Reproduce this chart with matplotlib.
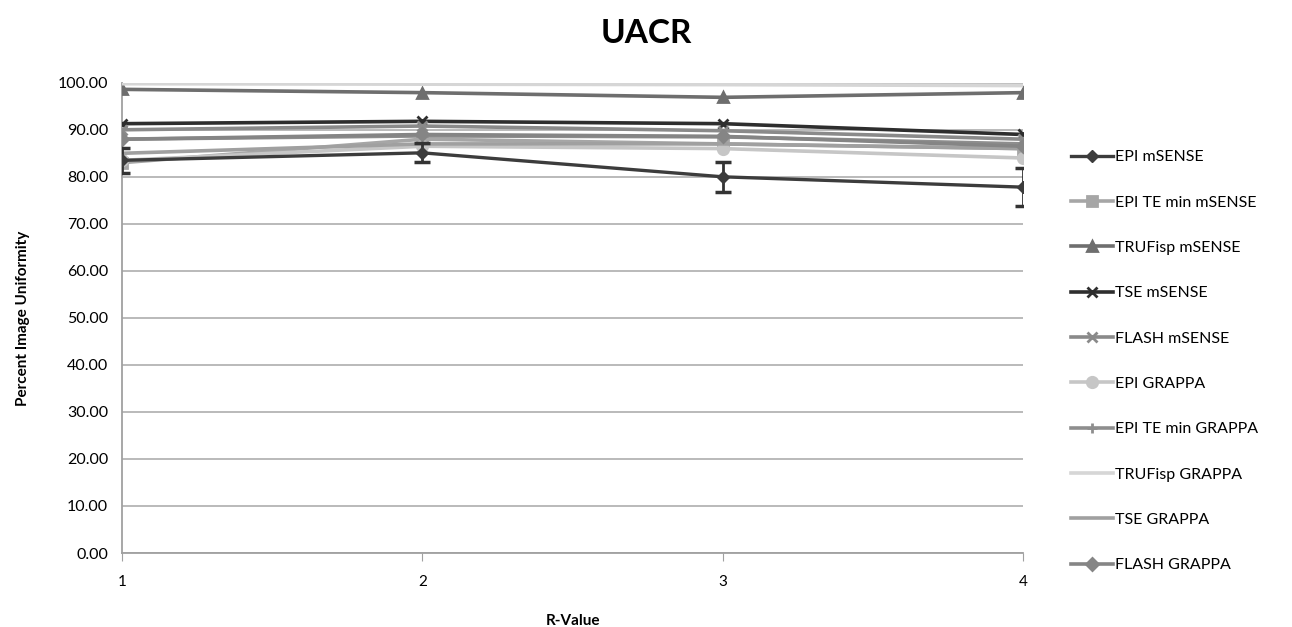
import matplotlib
matplotlib.use("Agg")
import matplotlib.pyplot as plt

r_values = [1, 2, 3, 4]
series_names = ["EPI mSENSE", "EPI TE min mSENSE", "TRUFisp mSENSE", "TSE mSENSE",
                "FLASH mSENSE", "EPI GRAPPA", "EPI TE min GRAPPA", "TRUFisp GRAPPA",
                "TSE GRAPPA", "FLASH GRAPPA"]
epi_msense = [83.5, 85.1, 80.0, 77.8]
epi_msense_err = [2.7, 2.0, 3.2, 4.0]
epi_temin_msense = [83.0, 88.0, 87.0, 86.0]
trufisp_msense = [98.6, 97.9, 96.9, 97.9]
tse_msense = [91.3, 91.8, 91.3, 89.0]
flash_msense = [90.0, 90.8, 89.8, 88.0]
epi_grappa = [83.5, 86.5, 86.0, 84.0]
epi_temin_grappa = [88.0, 88.7, 88.5, 87.0]
trufisp_grappa = [99.8, 99.7, 99.6, 99.4]
tse_grappa = [85.0, 87.0, 87.0, 86.0]
flash_grappa = [88.0, 89.0, 88.6, 86.5]

plt.rcParams['font.family'] = ['Lato', 'DejaVu Sans']

fig = plt.figure(figsize=(12.92, 6.27), dpi=100)
ax = fig.add_axes([0.0944, 0.118, 0.6976, 0.750])

data = [epi_msense, epi_temin_msense, trufisp_msense, tse_msense, flash_msense,
        epi_grappa, epi_temin_grappa, trufisp_grappa, tse_grappa, flash_grappa]
colors = ["#3c3c3c", "#a6a6a6", "#6e6e6e", "#2e2e2e", "#8a8a8a",
          "#c6c6c6", "#8e8e8e", "#d6d6d6", "#a0a0a0", "#858585"]
markers = ["D", "s", "^", "x", "x", "o", "+", None, None, "D"]
msizes = [6, 7, 7.5, 7.5, 7.5, 7.5, 7.5, 0, 0, 6]
draw_order = [7, 8, 5, 1, 6, 9, 4, 2, 3, 0]

handles = {}
for i in draw_order:
    vals = data[i]
    if i == 0:
        h = ax.errorbar(r_values, vals, yerr=epi_msense_err, color=colors[i],
                        marker=markers[i], markersize=msizes[i], linewidth=2.4,
                        ecolor="#333333", elinewidth=2.0, capsize=6, capthick=2.5,
                        label=series_names[i], zorder=5)
        handles[i] = h[0]
    else:
        h = ax.plot(r_values, vals, color=colors[i], marker=markers[i],
                    markersize=msizes[i], markeredgewidth=2, linewidth=2.6,
                    label=series_names[i], zorder=3 + i * 0.1)[0]
        handles[i] = h

ax.set_xlim(1, 4)
ax.set_ylim(0, 100)
ax.set_xticks(r_values)
ax.set_xticklabels([str(v) for v in r_values])
yt = list(range(0, 101, 10))
ax.set_yticks(yt)
ax.set_yticklabels([f"{v:.2f}" for v in yt])
ax.yaxis.grid(True, color="#b4b4b4", linewidth=1.3)
ax.set_axisbelow(True)
for s in ["top", "right"]:
    ax.spines[s].set_visible(False)
ax.spines["left"].set_color("#a0a0a0")
ax.spines["bottom"].set_color("#a0a0a0")
ax.spines["left"].set_linewidth(1.3)
ax.spines["bottom"].set_linewidth(1.3)
ax.tick_params(axis="x", direction="out", length=6, color="#a0a0a0", labelsize=11, pad=10)
ax.tick_params(axis="y", length=0, labelsize=11.5, pad=10)

ax.set_xlabel("R-Value", fontsize=11, fontweight="bold", labelpad=18)
ax.set_ylabel("Percent Image Uniformity", fontsize=11, fontweight="bold", labelpad=20)
fig.suptitle("UACR", fontsize=24, fontweight="bold", y=0.97)

fig.legend([handles[i] for i in range(10)], series_names,
           loc="center left", bbox_to_anchor=(0.818, 0.424),
           frameon=False, fontsize=11.5, labelspacing=1.95,
           handlelength=2.6, handletextpad=0.15)

fig.savefig("out.png", dpi=100)
